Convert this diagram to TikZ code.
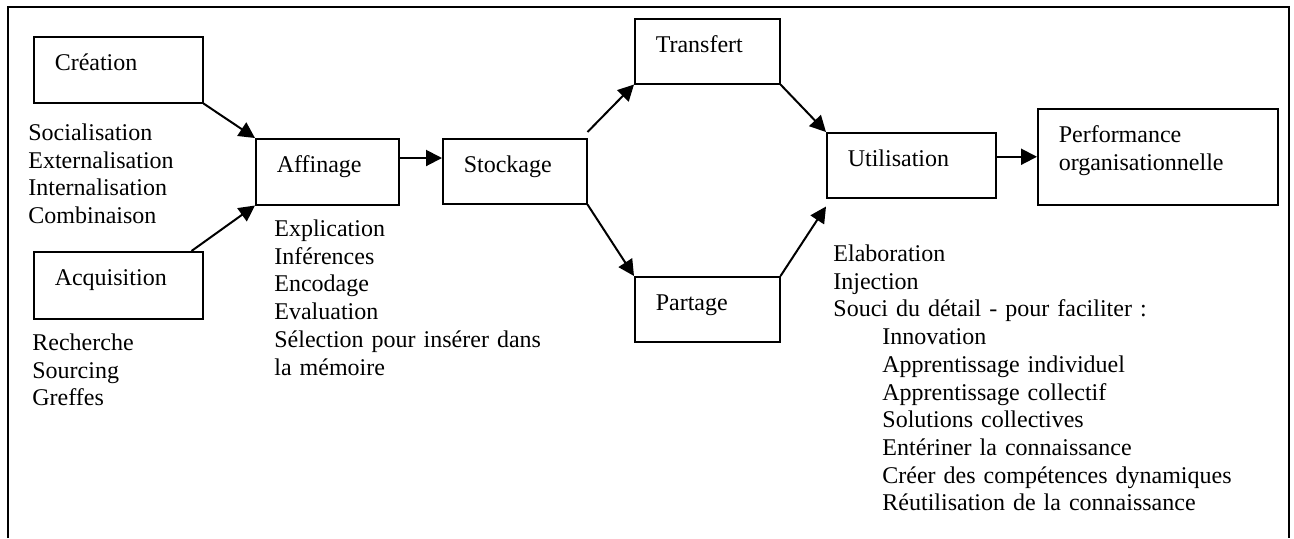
\documentclass[tikz,border=0pt]{standalone}
\usepackage{fontspec}
\setmainfont{Liberation Serif}
\usetikzlibrary{positioning,calc,arrows.meta}

\tikzset{
	boite/.style={draw=black,line width=0.75pt,anchor=north west,inner xsep=10.5pt,inner ysep=0pt,align=left,text height=17pt},
	liste/.style={anchor=base west,inner sep=0pt,text width=200pt,align=left},
	fleche/.style={-{Triangle[length=8pt,width=8pt]},line width=1pt},
}

\begin{document}
\begin{tikzpicture}[x=0.5pt,y=-0.5pt,font=\fontsize{12}{13.85}\selectfont]
		\useasboundingbox (0,0) rectangle (1294,538);
		\draw[line width=1pt] (8,538) -- (8,7) -- (1289,7) -- (1289,538);
		
		\node[boite,text width=63.5pt,text depth=16pt] (crea) at (33,36) {Création};
		\node[boite,text width=63.5pt,text depth=16.5pt] (acq) at (33,251) {Acquisition};
		\node[boite,text width=50.5pt,text depth=16pt] (aff) at (255,138) {Affinage};
		\node[boite,text width=51pt,text depth=15.5pt] (stock) at (442,138) {Stockage};
		\node[boite,text width=51.5pt,text depth=15.5pt] (trans) at (634,18) {Transfert};
		\node[boite,text width=51.5pt,text depth=15.5pt] (part) at (634,276) {Partage};
		\node[boite,text width=63.5pt,text depth=15.5pt] (util) at (826,132) {Utilisation};
		\node[boite,text width=99pt,text depth=31pt] (perf) at (1037,108) {Performance\\organisationnelle};
		
		\node[liste,shift={(-5,37)}] (soc) at (crea.south west) {Socialisation\\Externalisation\\Internalisation\\Combinaison};
		\node[liste,shift={(-1,31)}] (rech) at (acq.south west) {Recherche\\Sourcing\\Greffes};
		\node[liste,shift={(19,31)}] (expl) at (aff.south west) {Explication\\Inférences\\Encodage\\Evaluation\\Sélection pour insérer dans\\la mémoire};
		\node[liste,shift={(7,63)}] (elab) at (util.south west) {Elaboration\\Injection\\Souci du détail - pour faciliter :\\
			\hspace*{24.5pt}Innovation\\\hspace*{24.5pt}Apprentissage individuel\\\hspace*{24.5pt}Apprentissage collectif\\
			\hspace*{24.5pt}Solutions collectives\\\hspace*{24.5pt}Entériner la connaissance\\
			\hspace*{24.5pt}Créer des compétences dynamiques\\\hspace*{24.5pt}Réutilisation de la connaissance};
		
		\draw[fleche] (crea.south east)--(aff.north west);
		\draw[fleche] ([xshift=-6pt]acq.north east)--(aff.south west);
		\draw[fleche] ([yshift=-10pt]aff.north east)--([yshift=-10pt]stock.north west);
		\draw[fleche] ([yshift=3pt]stock.north east)--(trans.south west);
		\draw[fleche] (stock.south east)--(part.north west);
		\draw[fleche] (trans.south east)--(util.north west);
		\draw[fleche] (part.north east)--([yshift=-4pt]util.south west);
		\draw[fleche] (util.east |- perf.west)--(perf.west);
	\end{tikzpicture}
\end{document}
